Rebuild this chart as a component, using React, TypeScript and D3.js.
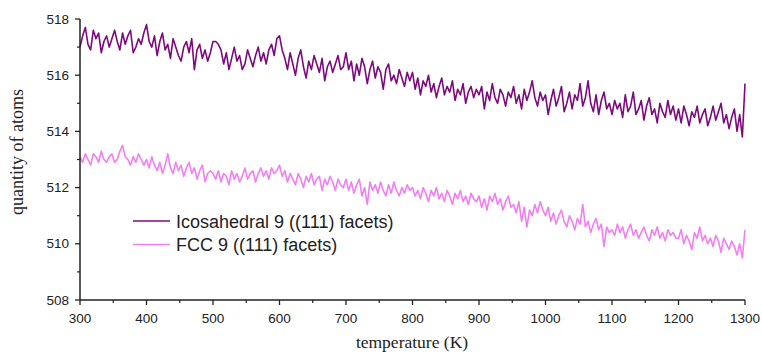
import React from "react";
import * as d3 from "d3";

const tempStart = 300;
const tempStep = 4;

const icosahedral = [
  517.0, 517.4, 517.7, 517.1, 516.9, 517.6, 517.3, 517.5, 516.8, 517.2, 517.4, 517.0, 517.3, 517.6, 517.2, 516.9, 517.5, 517.1, 517.4, 517.6, 516.8, 517.0, 517.3, 517.1, 517.5,
  517.8, 517.2, 517.0, 517.4, 516.7, 517.2, 517.5, 516.9, 517.1, 516.6, 517.3, 517.0, 516.7, 516.5, 517.0, 517.2, 516.8, 517.3, 516.2, 516.9, 517.1, 516.6, 516.9, 516.5, 516.8,
  517.2, 517.2, 517.1, 516.9, 516.4, 516.8, 516.2, 516.6, 517.0, 516.5, 516.7, 516.2, 516.4, 516.9, 516.6, 516.3, 516.7, 517.0, 516.5, 516.8, 516.4, 516.9, 517.1, 516.7, 517.3,
  517.4, 516.9, 516.6, 516.2, 516.8, 516.4, 516.0, 516.6, 516.9, 516.3, 515.9, 516.5, 516.2, 516.7, 516.4, 516.1, 516.6, 515.8, 516.3, 516.5, 516.1, 516.4, 516.7, 516.2, 516.3,
  516.8, 516.2, 516.5, 515.8, 516.4, 516.0, 516.6, 516.3, 515.7, 516.2, 516.5, 515.9, 516.3, 516.1, 515.5, 516.2, 516.4, 515.8, 516.0, 515.7, 516.2, 515.9, 515.6, 516.1, 515.8,
  516.1, 515.5, 515.9, 515.3, 515.8, 515.6, 516.0, 515.4, 515.7, 515.2, 515.6, 515.9, 515.3, 515.6, 515.4, 515.8, 515.1, 515.5, 515.3, 515.7, 515.0, 515.4, 515.6, 515.2, 515.5,
  515.3, 515.6, 514.8, 515.4, 515.1, 515.7, 515.2, 515.0, 515.5, 515.3, 514.9, 515.4, 515.2, 515.6, 515.0, 515.3, 514.8, 515.5, 515.1, 515.4, 515.8, 515.2, 514.9, 515.4, 515.1,
  515.3, 514.6, 515.1, 515.5, 514.9, 515.2, 515.6, 514.7, 515.0, 515.4, 514.8, 515.3, 515.1, 515.7, 514.9, 515.2, 515.8, 515.0, 514.7, 515.3, 514.6, 515.1, 515.4, 514.8, 515.0,
  514.6, 515.1, 514.8, 515.0, 514.5, 515.3, 514.7, 514.9, 515.4, 514.6, 514.8, 515.1, 514.4, 514.9, 515.2, 514.6, 514.8, 514.3, 515.0, 514.7, 514.5, 515.1, 514.6, 514.9, 514.4,
  514.8, 514.3, 514.9, 514.6, 514.2, 514.7, 514.5, 514.9, 514.3, 514.6, 514.8, 514.2, 514.5, 514.9, 514.4, 514.7, 515.0, 514.3, 514.6, 514.1, 514.5, 514.8, 514.0, 514.6, 513.8,
  515.7,
];

const fcc = [
  513.1, 512.9, 513.2, 513.0, 512.8, 513.2, 513.1, 512.9, 513.3, 513.0, 512.9, 513.1, 513.2, 512.9, 513.0, 513.3, 513.5, 513.1, 513.0, 512.8, 513.1, 512.9, 513.2, 513.0, 512.8,
  513.0, 512.7, 513.1, 512.8, 512.6, 512.9, 512.5, 512.8, 513.2, 512.7, 512.5, 512.9, 512.6, 512.8, 512.4, 512.7, 512.9, 512.5, 512.7, 512.3, 512.6, 512.8, 512.2, 512.5, 512.6,
  512.5, 512.3, 512.6, 512.2, 512.5, 512.4, 512.1, 512.6, 512.3, 512.5, 512.2, 512.4, 512.7, 512.3, 512.5, 512.6, 512.2, 512.5, 512.7, 512.4, 512.6, 512.3, 512.7, 512.5, 512.6,
  512.8, 512.4, 512.6, 512.2, 512.5, 512.3, 512.1, 512.5, 512.3, 512.0, 512.4, 512.2, 512.5, 512.1, 512.3, 512.4, 511.9, 512.3, 512.1, 512.4, 512.2, 511.9, 512.3, 512.1, 512.0,
  512.3, 511.9, 512.2, 511.8, 512.1, 512.3, 511.7, 512.0, 511.4, 512.2, 511.9, 512.1, 511.8, 512.2, 511.9, 511.7, 512.1, 511.8, 512.2, 511.9, 511.7, 512.0, 511.8, 512.1, 511.9,
  512.0, 511.7, 511.9, 511.6, 512.0, 511.8, 511.5, 511.9, 511.7, 512.0, 511.6, 511.8, 511.5, 511.9, 511.7, 511.4, 511.8, 511.6, 511.9, 511.5, 511.7, 511.4, 511.8, 511.6, 511.5,
  511.7, 511.3, 511.6, 511.2, 511.7, 511.5, 511.8, 511.4, 511.6, 511.2, 511.5, 511.7, 511.3, 511.4, 511.1, 511.5, 510.8, 511.3, 510.6, 511.2, 511.0, 511.4, 511.1, 511.5, 511.2,
  511.0, 511.3, 510.8, 511.1, 510.7, 511.0, 511.2, 510.8, 510.6, 511.0, 510.8, 510.5, 510.9, 510.7, 511.4, 510.6, 510.8, 510.4, 510.7, 510.9, 510.5, 510.7, 509.9, 510.6, 510.4,
  510.5, 510.3, 510.7, 510.4, 510.6, 510.2, 510.5, 510.7, 510.3, 510.5, 510.2, 510.4, 510.6, 510.3, 510.1, 510.5, 510.3, 510.6, 510.2, 510.4, 510.1, 510.5, 510.3, 510.4, 510.2,
  510.2, 510.5, 510.0, 510.3, 510.1, 509.8, 510.4, 510.2, 510.6, 510.1, 510.3, 510.0, 510.2, 509.9, 510.3, 510.1, 509.7, 510.2, 510.0, 509.8, 510.1, 509.9, 509.6, 510.0, 509.5,
  510.5,
];

const seriesNames = ["Icosahedral 9 ((111) facets)", "FCC 9 ((111) facets)"];
const seriesColors = ["#7d0a7d", "#f27ff2"];
const xTicks = [300, 400, 500, 600, 700, 800, 900, 1000, 1100, 1200, 1300];
const xMinor = [350, 450, 550, 650, 750, 850, 950, 1050, 1150, 1250];
const yTicks = [508, 510, 512, 514, 516, 518];
const yMinor = [509, 511, 513, 515, 517];

export default function App() {
  const W = 762, H = 354;
  const left = 80, right = 745, top = 19, bottom = 300;
  const x = d3.scaleLinear().domain([300, 1300]).range([left, right]);
  const y = d3.scaleLinear().domain([508, 518]).range([bottom, top]);
  const line = d3
    .line<number>()
    .x((_, i) => x(tempStart + i * tempStep))
    .y((d) => y(d));
  const data = [icosahedral, fcc];
  const axisColor = "#222";
  return (
    <svg width={W} height={H} style={{ position: "absolute", left: 0, top: 0, background: "#fff" }}>
      {data.map((s, k) => (
        <path key={k} d={line(s) || ""} fill="none" stroke={seriesColors[k]} strokeWidth={1.6} strokeLinejoin="round" />
      ))}
      <line x1={left} x2={left} y1={top} y2={bottom} stroke={axisColor} strokeWidth={1.5} />
      <line x1={left} x2={right} y1={bottom} y2={bottom} stroke={axisColor} strokeWidth={1.5} />
      {xTicks.map((t) => (
        <g key={"xt" + t}>
          <line x1={x(t)} x2={x(t)} y1={bottom} y2={bottom + 5} stroke={axisColor} strokeWidth={1.3} />
          <text x={x(t)} y={323} textAnchor="middle" fontFamily="Liberation Sans, Arial, sans-serif" fontSize={13.5} fill="#222">
            {t}
          </text>
        </g>
      ))}
      {xMinor.map((t) => (
        <line key={"xm" + t} x1={x(t)} x2={x(t)} y1={bottom} y2={bottom + 3} stroke={axisColor} strokeWidth={1.2} />
      ))}
      {yTicks.map((t) => (
        <g key={"yt" + t}>
          <line x1={left - 5} x2={left} y1={y(t)} y2={y(t)} stroke={axisColor} strokeWidth={1.3} />
          <text x={69} y={y(t) + 4.5} textAnchor="end" fontFamily="Liberation Sans, Arial, sans-serif" fontSize={13.5} fill="#222">
            {t}
          </text>
        </g>
      ))}
      {yMinor.map((t) => (
        <line key={"ym" + t} x1={left - 3} x2={left} y1={y(t)} y2={y(t)} stroke={axisColor} strokeWidth={1.2} />
      ))}
      <text
        transform={`translate(23,152) rotate(-90)`}
        textAnchor="middle"
        fontFamily="Liberation Serif, Times New Roman, serif"
        fontSize={18}
        fill="#222"
      >
        quantity of atoms
      </text>
      <text x={412} y={348} textAnchor="middle" fontFamily="Liberation Serif, Times New Roman, serif" fontSize={17.5} fill="#222">
        temperature (K)
      </text>
      {seriesNames.map((n, k) => (
        <g key={"lg" + k}>
          <line x1={133} x2={170} y1={221 + k * 23.5} y2={221 + k * 23.5} stroke={seriesColors[k]} strokeWidth={1.6} />
          <text x={176} y={221 + k * 23.5 + 6.5} fontFamily="Liberation Sans, Arial, sans-serif" fontSize={18} fill="#222">
            {n}
          </text>
        </g>
      ))}
    </svg>
  );
}
